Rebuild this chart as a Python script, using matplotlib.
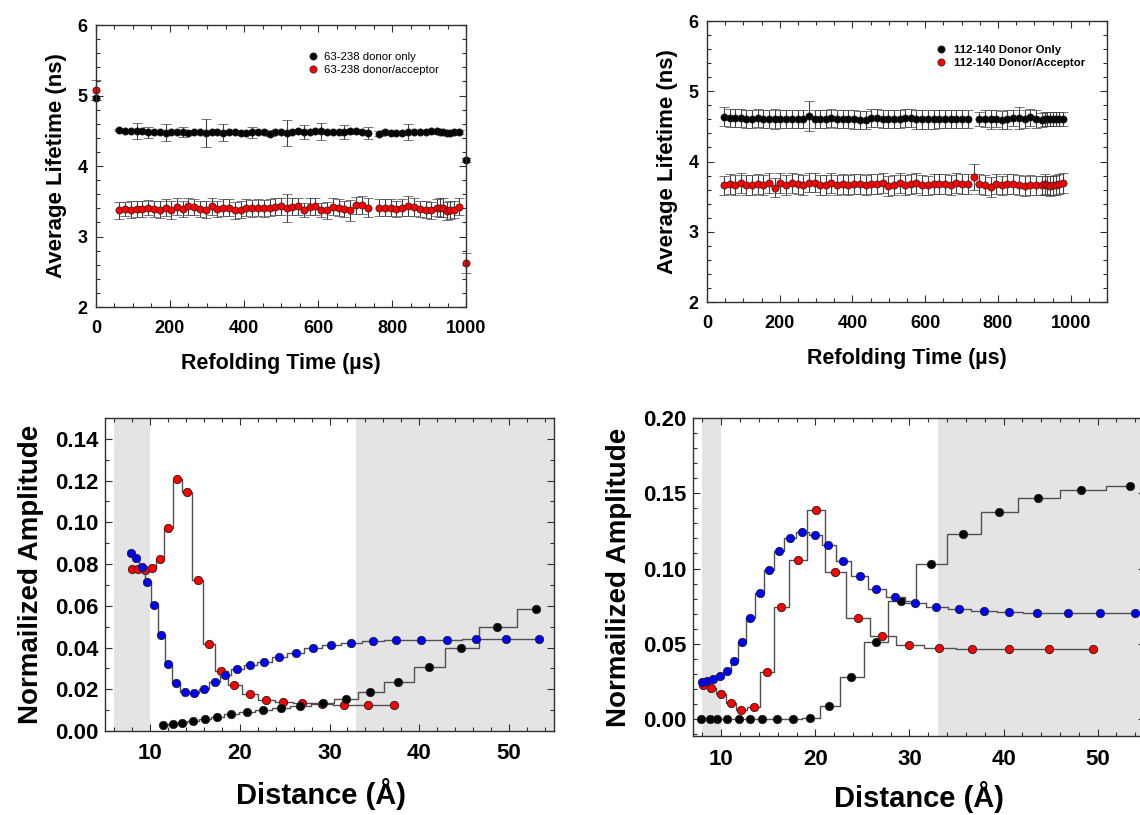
import matplotlib
matplotlib.use("Agg")
import matplotlib.pyplot as plt
from matplotlib.ticker import MultipleLocator, FormatStrFormatter

plt.rcParams['font.family'] = ['Liberation Sans', 'DejaVu Sans']
plt.rcParams['font.weight'] = 'bold'

# ---- top left: 63-238 average lifetime ----
tl_time = [63, 79, 94, 110, 125, 141, 157, 172, 188, 203, 219, 235, 250, 266, 281,
           297, 313, 328, 344, 359, 375, 391, 406, 422, 437, 453, 469, 484, 500, 515,
           531, 547, 562, 578, 593, 609, 625, 640, 656, 671, 687, 703, 718, 734,
           765, 780, 796, 812, 827, 843, 859, 875, 891, 906, 922, 929, 938, 949, 958,
           967, 980]
tl_da = [3.37, 3.39, 3.38, 3.39, 3.39, 3.41, 3.39, 3.38, 3.41, 3.38, 3.42, 3.39, 3.43,
         3.42, 3.39, 3.38, 3.43, 3.39, 3.41, 3.41, 3.37, 3.38, 3.41, 3.40, 3.41, 3.40,
         3.41, 3.42, 3.43, 3.41, 3.42, 3.43, 3.37, 3.42, 3.43, 3.38, 3.37, 3.42, 3.41,
         3.39, 3.37, 3.44, 3.45, 3.41,
         3.41, 3.41, 3.41, 3.39, 3.41, 3.43, 3.42, 3.39, 3.38, 3.37, 3.41, 3.41, 3.41,
         3.36, 3.38, 3.38, 3.42]
tl_da_err = [0.12, 0.10, 0.12, 0.12, 0.12, 0.11, 0.12, 0.12, 0.12, 0.13, 0.12, 0.12,
             0.12, 0.11, 0.12, 0.12, 0.12, 0.12, 0.12, 0.12, 0.12, 0.12, 0.12, 0.12,
             0.12, 0.12, 0.12, 0.12, 0.12, 0.20, 0.12, 0.12, 0.10, 0.12, 0.12, 0.10,
             0.12, 0.12, 0.12, 0.12, 0.15, 0.12, 0.13, 0.14,
             0.12, 0.12, 0.12, 0.12, 0.12, 0.14, 0.13, 0.12, 0.12, 0.12, 0.12, 0.14,
             0.14, 0.13, 0.13, 0.12, 0.12]
tl_do = [4.51, 4.50, 4.50, 4.50, 4.49, 4.48, 4.48, 4.48, 4.47, 4.48, 4.48, 4.48, 4.47,
         4.48, 4.48, 4.47, 4.48, 4.48, 4.47, 4.48, 4.48, 4.47, 4.47, 4.48, 4.48, 4.48,
         4.46, 4.48, 4.48, 4.47, 4.48, 4.49, 4.48, 4.48, 4.49, 4.49, 4.48, 4.48, 4.48,
         4.48, 4.49, 4.49, 4.48, 4.47,
         4.46, 4.48, 4.47, 4.47, 4.47, 4.48, 4.48, 4.48, 4.48, 4.49, 4.49, 4.48, 4.48,
         4.47, 4.47, 4.48, 4.48]
tl_do_err = [0.02, 0.03, 0.03, 0.11, 0.03, 0.08, 0.03, 0.03, 0.12, 0.03, 0.03, 0.07,
             0.03, 0.03, 0.03, 0.20, 0.03, 0.03, 0.12, 0.03, 0.03, 0.03, 0.03, 0.08,
             0.03, 0.03, 0.03, 0.03, 0.03, 0.18, 0.03, 0.03, 0.10, 0.03, 0.03, 0.12,
             0.03, 0.03, 0.03, 0.10, 0.03, 0.03, 0.03, 0.08,
             0.04, 0.03, 0.03, 0.03, 0.03, 0.11, 0.03, 0.03, 0.03, 0.03, 0.03, 0.03,
             0.03, 0.03, 0.03, 0.03, 0.03]
tl_end_time = [0, 1000]
tl_end_do = [4.97, 4.09]
tl_end_do_err = [0.03, 0.03]
tl_end_da = [5.08, 2.62]
tl_end_da_err = [0.14, 0.14]

# ---- top right: 112-140 average lifetime ----
tr_time = [46, 62, 77, 93, 108, 124, 140, 155, 171, 186, 202, 218, 233, 249, 264, 280,
           296, 311, 327, 342, 358, 374, 389, 405, 420, 436, 452, 467, 483, 498, 514,
           530, 545, 561, 576, 592, 608, 623, 639, 654, 670, 686, 701, 717, 733, 748,
           764, 780, 795, 811, 826, 842, 858, 873, 889, 904, 920, 928, 936, 944, 951,
           959, 967, 979]
tr_da = [3.66, 3.68, 3.67, 3.69, 3.67, 3.67, 3.68, 3.67, 3.69, 3.63, 3.69, 3.67, 3.69,
         3.68, 3.67, 3.70, 3.70, 3.67, 3.67, 3.69, 3.67, 3.68, 3.67, 3.68, 3.68, 3.67,
         3.68, 3.68, 3.69, 3.65, 3.67, 3.69, 3.67, 3.68, 3.69, 3.67, 3.66, 3.68, 3.68,
         3.68, 3.67, 3.69, 3.68, 3.68, 3.78, 3.68, 3.67, 3.64, 3.68, 3.66, 3.68, 3.68,
         3.67, 3.65, 3.67, 3.66, 3.66, 3.68, 3.66, 3.65, 3.66, 3.67, 3.68, 3.69]
tr_da_err = [0.13, 0.14, 0.14, 0.14, 0.14, 0.14, 0.14, 0.14, 0.14, 0.14, 0.14, 0.14,
             0.14, 0.14, 0.14, 0.14, 0.14, 0.14, 0.14, 0.14, 0.14, 0.14, 0.14, 0.14,
             0.14, 0.14, 0.14, 0.14, 0.14, 0.14, 0.14, 0.14, 0.14, 0.14, 0.14, 0.14,
             0.14, 0.14, 0.14, 0.14, 0.14, 0.14, 0.14, 0.14, 0.19, 0.14, 0.14, 0.14,
             0.14, 0.14, 0.14, 0.14, 0.14, 0.14, 0.14, 0.14, 0.14, 0.14, 0.14, 0.14,
             0.14, 0.14, 0.14, 0.14]
tr_do_time = [46, 62, 77, 93, 108, 124, 140, 155, 171, 186, 202, 218, 233, 249, 264,
              280, 296, 311, 327, 342, 358, 374, 389, 405, 420, 436, 452, 467, 483, 498,
              514, 530, 545, 561, 576, 592, 608, 623, 639, 654, 670, 686, 701, 717,
              748, 764, 780, 795, 811, 826, 842, 858, 873, 889, 904, 920, 928, 936, 944,
              951, 959, 967, 979]
tr_do = [4.64, 4.62, 4.62, 4.62, 4.61, 4.61, 4.62, 4.61, 4.61, 4.61, 4.61, 4.61, 4.61,
         4.61, 4.61, 4.65, 4.61, 4.61, 4.61, 4.62, 4.61, 4.61, 4.61, 4.60, 4.59, 4.59,
         4.62, 4.62, 4.61, 4.61, 4.61, 4.61, 4.62, 4.62, 4.60, 4.60, 4.60, 4.60, 4.61,
         4.61, 4.61, 4.61, 4.61, 4.61,
         4.60, 4.61, 4.60, 4.61, 4.59, 4.60, 4.62, 4.62, 4.61, 4.63, 4.61, 4.59, 4.60,
         4.61, 4.60, 4.60, 4.60, 4.60, 4.60]
tr_do_err = [0.13, 0.13, 0.13, 0.13, 0.13, 0.13, 0.13, 0.13, 0.13, 0.14, 0.13, 0.13,
             0.13, 0.13, 0.13, 0.21, 0.13, 0.13, 0.13, 0.13, 0.13, 0.13, 0.13, 0.13,
             0.13, 0.13, 0.13, 0.13, 0.13, 0.13, 0.13, 0.13, 0.13, 0.13, 0.13, 0.13,
             0.13, 0.13, 0.13, 0.13, 0.13, 0.13, 0.13, 0.13,
             0.10, 0.12, 0.13, 0.12, 0.13, 0.14, 0.12, 0.15, 0.13, 0.12, 0.13, 0.10,
             0.10, 0.10, 0.10, 0.10, 0.10, 0.10, 0.10]

# ---- bottom left: 63-238 distance distributions ----
bl_blue_x = [7.86, 8.41, 9.16, 9.71, 10.44, 11.26, 12.04, 12.93, 13.88, 14.88, 16.03,
             17.20, 18.39, 19.75, 21.16, 22.75, 24.41, 26.23, 28.15, 30.22, 32.39,
             34.83, 37.38, 40.20, 43.11, 46.29, 49.65, 53.35]
bl_blue_y = [0.0851, 0.0830, 0.0787, 0.0715, 0.0603, 0.0459, 0.0323, 0.0232, 0.0187,
             0.0182, 0.0203, 0.0235, 0.0270, 0.0296, 0.0315, 0.0331, 0.0355, 0.0376,
             0.0398, 0.0413, 0.0424, 0.0432, 0.0435, 0.0438, 0.0438, 0.0440, 0.0442,
             0.0442]
bl_red_x = [7.97, 8.71, 9.41, 10.27, 11.11, 12.04, 13.04, 14.10, 15.32, 16.59, 17.95,
            19.42, 21.16, 22.93, 24.86, 26.90, 29.20, 31.62, 34.28, 37.16]
bl_red_y = [0.0774, 0.0774, 0.0771, 0.0779, 0.0824, 0.0974, 0.1206, 0.1147, 0.0723,
            0.0419, 0.0286, 0.0218, 0.0176, 0.0150, 0.0139, 0.0134, 0.0130, 0.0126,
            0.0126, 0.0126]
bl_black_x = [11.49, 12.52, 13.59, 14.77, 16.10, 17.51, 19.06, 20.80, 22.64, 24.60,
              26.71, 29.22, 31.81, 34.50, 37.68, 41.11, 44.63, 48.66, 53.02]
bl_black_y = [0.0030, 0.0035, 0.0040, 0.0048, 0.0058, 0.0067, 0.0080, 0.0090, 0.0099,
              0.0109, 0.0122, 0.0134, 0.0155, 0.0186, 0.0234, 0.0307, 0.0400, 0.0498,
              0.0587]

# ---- bottom right: 112-140 distance distributions ----
br_blue_x = [7.91, 8.51, 9.15, 9.85, 10.64, 11.34, 12.16, 13.04, 14.07, 15.05, 16.16,
             17.28, 18.60, 20.00, 21.39, 22.98, 24.70, 26.49, 28.47, 30.63, 32.86,
             35.27, 37.92, 40.60, 43.58, 46.87, 50.27, 53.98]
br_blue_y = [0.0246, 0.0253, 0.0264, 0.0284, 0.0317, 0.0388, 0.0510, 0.0670, 0.0840,
             0.0993, 0.1118, 0.1202, 0.1240, 0.1226, 0.1157, 0.1053, 0.0951, 0.0867,
             0.0812, 0.0769, 0.0745, 0.0729, 0.0721, 0.0714, 0.0707, 0.0705, 0.0705,
             0.0703]
br_red_x = [8.09, 8.94, 9.96, 10.99, 12.12, 13.43, 14.84, 16.33, 18.13, 20.04, 22.10,
            24.50, 27.12, 29.99, 33.10, 36.70, 40.57, 44.85, 49.55]
br_red_y = [0.0224, 0.0208, 0.0164, 0.0104, 0.0062, 0.0078, 0.0310, 0.0745, 0.1058,
            0.1392, 0.0980, 0.0674, 0.0552, 0.0494, 0.0474, 0.0466, 0.0466, 0.0466,
            0.0466]
br_black_x = [7.80, 8.76, 9.60, 10.64, 11.87, 13.04, 14.38, 15.94, 17.60, 19.48, 21.50,
              23.83, 26.41, 29.14, 32.25, 35.69, 39.47, 43.68, 48.25, 53.45]
br_black_y = [0.0, 0.0, 0.0, 0.0, 0.0, 0.0, 0.0, 0.0, 0.0, 0.0004, 0.0086, 0.0277,
              0.0514, 0.0783, 0.1029, 0.1231, 0.1375, 0.1466, 0.1519, 0.1548]

SPINE = '#303030'
SHADE = '#e4e4e4'
STEP = '#505050'


def style_axes(ax, tick_size, xpad, ypad):
    for s in ax.spines.values():
        s.set_color(SPINE)
        s.set_linewidth(1.0)
    ax.tick_params(which='both', direction='in', top=True, right=True,
                   colors=SPINE, labelcolor='black', labelsize=tick_size, width=0.8)
    ax.tick_params(which='major', length=5)
    ax.tick_params(which='minor', length=3)
    ax.tick_params(axis='x', which='major', pad=xpad)
    ax.tick_params(axis='y', which='major', pad=ypad)
    for lbl in ax.get_xticklabels() + ax.get_yticklabels():
        lbl.set_fontweight('bold')


fig = plt.figure(figsize=(11.4, 8.15), dpi=100)

# top left
ax1 = fig.add_axes([0.0842, 0.6233, 0.3246, 0.346])
eb = dict(fmt='o', ms=5.2, mec='#202020', mew=0.5, ecolor='#404040', elinewidth=0.8,
          capsize=3.5, capthick=0.8)
ax1.errorbar(tl_time, tl_do, yerr=tl_do_err, mfc='black', **eb,
             label='63-238 donor only')
ax1.errorbar(tl_time, tl_da, yerr=tl_da_err, mfc='#ff0000', **eb,
             label='63-238 donor/acceptor')
ax1.errorbar(tl_end_time, tl_end_do, yerr=tl_end_do_err, mfc='black', clip_on=False, **eb)
ax1.errorbar(tl_end_time, tl_end_da, yerr=tl_end_da_err, mfc='#ff0000', clip_on=False, **eb)
ax1.set_xlim(0, 1000)
ax1.set_ylim(2, 6)
ax1.xaxis.set_major_locator(MultipleLocator(200))
ax1.xaxis.set_minor_locator(MultipleLocator(50))
ax1.yaxis.set_major_locator(MultipleLocator(1))
ax1.yaxis.set_minor_locator(MultipleLocator(0.2))
style_axes(ax1, 13, 9, 6)
ax1.set_xlabel('Refolding Time (µs)', fontsize=15.5, fontweight='bold', labelpad=12)
ax1.set_ylabel('Average Lifetime (ns)', fontsize=16, fontweight='bold', labelpad=8)
handles, labels = ax1.get_legend_handles_labels()
ax1.legend([h[0] for h in handles], labels, loc='upper right',
           bbox_to_anchor=(0.955, 0.94), frameon=False, handletextpad=0.5,
           handlelength=1.0, labelspacing=0.25,
           prop={'family': ['Liberation Sans Narrow', 'Liberation Sans'],
                 'size': 8.2, 'weight': 'normal'})

# top right
ax2 = fig.add_axes([0.6202, 0.6294, 0.3509, 0.3448])
ax2.errorbar(tr_do_time, tr_do, yerr=tr_do_err, mfc='black', **eb,
             label='112-140 Donor Only')
ax2.errorbar(tr_time, tr_da, yerr=tr_da_err, mfc='#ff0000', **eb,
             label='112-140 Donor/Acceptor')
ax2.set_xlim(0, 1100)
ax2.set_ylim(2, 6)
ax2.xaxis.set_major_locator(MultipleLocator(200))
ax2.xaxis.set_minor_locator(MultipleLocator(50))
ax2.yaxis.set_major_locator(MultipleLocator(1))
ax2.yaxis.set_minor_locator(MultipleLocator(0.2))
style_axes(ax2, 13, 9, 6)
ax2.set_xlabel('Refolding Time (µs)', fontsize=15.5, fontweight='bold', labelpad=12)
ax2.set_ylabel('Average Lifetime (ns)', fontsize=16, fontweight='bold', labelpad=8)
handles, labels = ax2.get_legend_handles_labels()
ax2.legend([h[0] for h in handles], labels, loc='upper right',
           bbox_to_anchor=(0.97, 0.95), frameon=False, handletextpad=0.6,
           handlelength=1.0, labelspacing=0.25,
           prop={'family': ['Liberation Sans Narrow', 'Liberation Sans'],
                 'size': 8.2, 'weight': 'bold'})

mk = dict(marker='o', ms=6, mec='#202020', mew=0.6, lw=1.0, color=STEP,
          drawstyle='steps-mid')

# bottom left
ax3 = fig.add_axes([0.0921, 0.1031, 0.3939, 0.3840])
ax3.axvspan(6, 10, color=SHADE, lw=0, zorder=0)
ax3.axvspan(33, 55, color=SHADE, lw=0, zorder=0)
ax3.plot(bl_red_x, bl_red_y, mfc='#ff0000', **mk)
ax3.plot(bl_black_x, bl_black_y, mfc='black', **mk)
ax3.plot(bl_blue_x, bl_blue_y, mfc='#0000ff', **mk)
ax3.set_xlim(5, 55)
ax3.set_ylim(0, 0.15)
ax3.xaxis.set_major_locator(MultipleLocator(10))
ax3.xaxis.set_minor_locator(MultipleLocator(2))
ax3.yaxis.set_minor_locator(MultipleLocator(0.01))
ax3.yaxis.set_major_formatter(FormatStrFormatter('%.2f'))
ax3.set_yticks([0, 0.02, 0.04, 0.06, 0.08, 0.10, 0.12, 0.14])
style_axes(ax3, 16, 9, 5)
ax3.set_xlabel('Distance (Å)', fontsize=21, fontweight='bold', labelpad=8)
ax3.xaxis.set_label_coords(0.48, -0.15)
ax3.set_ylabel('Normailized Amplitude', fontsize=20, fontweight='bold', labelpad=8)

# bottom right
ax4 = fig.add_axes([0.6079, 0.0969, 0.3962, 0.3902])
ax4.axvspan(8, 10, color=SHADE, lw=0, zorder=0)
ax4.axvspan(33, 55, color=SHADE, lw=0, zorder=0)
ax4.plot(br_black_x, br_black_y, mfc='black', **mk)
ax4.plot(br_red_x, br_red_y, mfc='#ff0000', **mk)
ax4.plot(br_blue_x, br_blue_y, mfc='#0000ff', **mk)
ax4.set_xlim(7, 55)
ax4.set_ylim(-0.0113, 0.20)
ax4.xaxis.set_major_locator(MultipleLocator(10))
ax4.xaxis.set_minor_locator(MultipleLocator(2))
ax4.yaxis.set_major_locator(MultipleLocator(0.05))
ax4.yaxis.set_minor_locator(MultipleLocator(0.01))
ax4.yaxis.set_major_formatter(FormatStrFormatter('%.2f'))
style_axes(ax4, 16, 9, 5)
ax4.set_xlabel('Distance (Å)', fontsize=21, fontweight='bold', labelpad=8)
ax4.set_ylabel('Normailized Amplitude', fontsize=20, fontweight='bold', labelpad=8)

fig.savefig('out.png', dpi=100)
